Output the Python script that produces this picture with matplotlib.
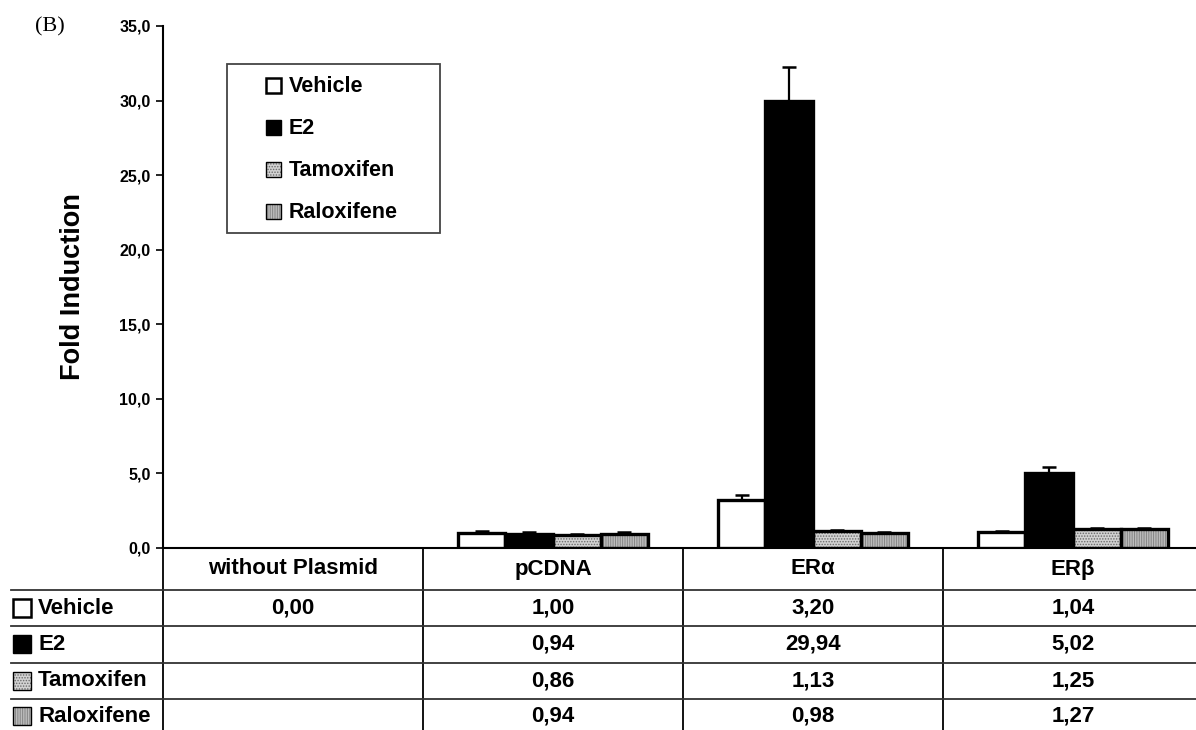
import numpy as np
import matplotlib.pyplot as plt
from matplotlib.patches import Rectangle
from matplotlib.transforms import blended_transform_factory

plt.rcParams['font.family'] = ['Liberation Sans', 'DejaVu Sans']
plt.rcParams['font.weight'] = 'bold'
plt.rcParams['axes.labelweight'] = 'bold'
plt.rcParams['hatch.linewidth'] = 0.7

groups = ['without Plasmid', 'pCDNA', 'ER\u03b1', 'ER\u03b2']
series = ['Vehicle', 'E2', 'Tamoxifen', 'Raloxifene']

vehicle = [0.00, 1.00, 3.20, 1.04]
e2 = [np.nan, 0.94, 29.94, 5.02]
tamoxifen = [np.nan, 0.86, 1.13, 1.25]
raloxifene = [np.nan, 0.94, 0.98, 1.27]

vehicle_err = [0.0, 0.14, 0.35, 0.10]
e2_err = [np.nan, 0.10, 2.30, 0.40]
tamoxifen_err = [np.nan, 0.08, 0.07, 0.09]
raloxifene_err = [np.nan, 0.10, 0.07, 0.10]

values = [vehicle, e2, tamoxifen, raloxifene]
errors = [vehicle_err, e2_err, tamoxifen_err, raloxifene_err]

# fill, hatch, hatch colour for each series
styles = [('white', None, None), ('black', None, None),
          ('#d2d2d2', '......', '#6a6a6a'), ('#bcbcbc', '|||||||', '#858585')]

W, H = 1196, 730
fig = plt.figure(figsize=(W / 100, H / 100), dpi=100)

# plot area: y axis at x=163 px, baseline at y=548 px, 260 px per group
ax_l, ax_b, ax_t = 163, 548, 26
ax = fig.add_axes([ax_l / W, (H - ax_b) / H, 1040 / W, (ax_b - ax_t) / H])

# overlay in pixel coordinates for table, legend and panel letter
cv = fig.add_axes([0, 0, 1, 1], zorder=-1)
cv.set_xlim(0, W)
cv.set_ylim(H, 0)
cv.axis('off')

x = np.arange(len(groups)) + 0.5
bw = 0.183
for i in range(len(series)):
    v = np.array(values[i], dtype=float)
    v = np.where(v > 0, v, np.nan)
    e = np.array(errors[i], dtype=float)
    pos = x + (i - 1.5) * bw
    fc, hatch, hc = styles[i]
    if hatch:
        # hatch layer in grey, outline drawn separately in black
        ax.bar(pos, v, bw, color=fc, edgecolor=hc, linewidth=0, hatch=hatch, zorder=2)
        ax.bar(pos, v, bw, fill=False, edgecolor='black', linewidth=2.4, zorder=3)
    else:
        ax.bar(pos, v, bw, color=fc, edgecolor='black', linewidth=2.4, zorder=3)
    ax.errorbar(pos, v, yerr=[np.zeros_like(e), e], fmt='none', ecolor='black',
                elinewidth=1.6, capsize=5, capthick=1.8, zorder=1)

ax.set_xlim(0, 4)
ax.set_ylim(0, 35)
ax.set_yticks(np.arange(0, 36, 5))
ax.set_yticklabels([f'{t:.1f}'.replace('.', ',') for t in np.arange(0, 36, 5)], fontsize=11.5)
ax.set_xticks([])
ax.tick_params(axis='y', direction='out', length=5, width=1.2, pad=4)
ax.spines['top'].set_visible(False)
ax.spines['right'].set_visible(False)
ax.spines['left'].set_linewidth(1.5)
ax.spines['bottom'].set_linewidth(1.5)
ax.set_ylabel('Fold Induction', fontsize=19.5, labelpad=24)
ax.patch.set_alpha(0)


def swatch(x0, y0, size, i):
    fc, hatch, hc = styles[i]
    lw = 1.8 if i == 0 else 1.0
    if hatch:
        cv.add_patch(Rectangle((x0, y0), size, size, facecolor=fc, edgecolor=hc,
                               hatch=hatch, linewidth=0))
        cv.add_patch(Rectangle((x0, y0), size, size, fill=False, edgecolor='black', linewidth=lw))
    else:
        cv.add_patch(Rectangle((x0, y0), size, size, facecolor=fc, edgecolor='black', linewidth=lw))


# legend box
cv.add_patch(Rectangle((227, 64), 213, 169, facecolor='white', edgecolor='#444444', linewidth=1.3))
for i, name in enumerate(series):
    yc = 86 + 42 * i
    swatch(266, yc - 8, 15, i)
    cv.text(289, yc, name, fontsize=15.5, va='center', ha='left')

cv.text(35, 27, '(B)', fontsize=16, fontweight='normal', family='Liberation Serif', va='center')

# data table under the plot
tx = blended_transform_factory(ax.transData, cv.transData)
row_lines = [590, 626, 663, 699]
row_mid = [608, 644, 681, 716]
for k in range(len(groups) + 1):
    cv.plot([ax_l + 260 * k] * 2, [ax_b, H], color='black', lw=1.3)
for y in row_lines:
    cv.plot([11, W], [y, y], color='#333333', lw=1.3)
for j, g in enumerate(groups):
    cv.text(x[j], 569, g, transform=tx, fontsize=16, ha='center', va='center')
for i, name in enumerate(series):
    swatch(13, row_mid[i] - 9, 18, i)
    cv.text(38, row_mid[i], name, fontsize=16, va='center', ha='left')
    for j in range(len(groups)):
        v = values[i][j]
        if not np.isnan(v):
            cv.text(x[j], row_mid[i], f'{v:.2f}'.replace('.', ','), transform=tx,
                    fontsize=16, ha='center', va='center')

fig.savefig('out.png', dpi=100)
